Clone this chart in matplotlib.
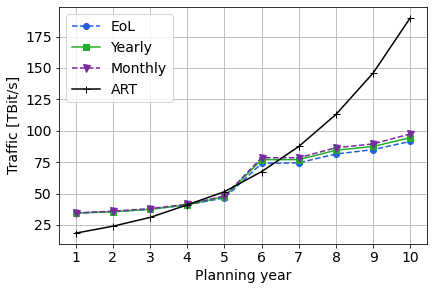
import matplotlib
matplotlib.use("Agg")
import matplotlib.pyplot as plt

years = [1, 2, 3, 4, 5, 6, 7, 8, 9, 10]
eol = [34.5, 35.5, 37.5, 41, 46.5, 74, 74.5, 81.5, 85, 91.5]
yearly = [34.5, 35.5, 37.5, 41, 47.5, 77, 77, 84.5, 87.5, 94.5]
monthly = [34.5, 36, 38, 41.5, 48, 78.5, 78.5, 86.5, 89.5, 97.5]
art = [18.5, 24, 31, 41, 51.5, 67.5, 87.5, 113, 146, 190]

plt.rcParams['font.size'] = 14
fig = plt.figure(figsize=(434 / 72, 290 / 72), dpi=72)
ax = fig.add_subplot(111)
fig.subplots_adjust(left=0.136, right=0.984, top=0.976, bottom=0.159)

ax.plot(years, eol, '--', color='#1f5fe0', marker='o', markersize=6, label='EoL')
ax.plot(years, yearly, '-', color='#22b02a', marker='s', markersize=6, label='Yearly')
ax.plot(years, monthly, '--', color='#7a2aa0', marker='v', markersize=7, label='Monthly')
ax.plot(years, art, '-', color='black', marker='+', markersize=7, label='ART')

ax.set_xticks(years)
ax.set_yticks([25, 50, 75, 100, 125, 150, 175])
ax.grid(True, color='#b0b0b0')
ax.set_xlabel('Planning year')
ax.set_ylabel('Traffic [TBit/s]')
ax.legend(loc='upper left')
fig.savefig('out.png', dpi=72)
